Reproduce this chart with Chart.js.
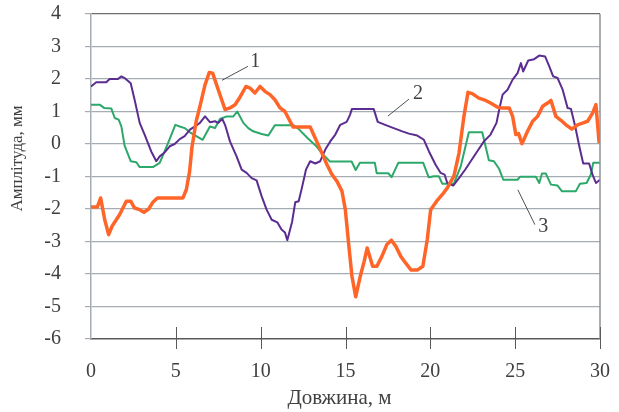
<!DOCTYPE html>
<html>
<head>
<meta charset="utf-8">
<script src="https://cdn.jsdelivr.net/npm/chart.js@4/dist/chart.umd.min.js"></script>
<style>
  html, body { margin: 0; padding: 0; background: #ffffff; }
  #wrap { width: 619px; height: 412px; }
</style>
</head>
<body>
<div id="wrap"><canvas id="chart" width="619" height="412"></canvas></div>
<script>
// Position along the track (m) and amplitude (mm) for each measured curve
const curve1 = [
  [0,-1.94],[0.37,-1.94],[0.57,-1.66],[0.81,-2.33],[1.04,-2.79],[1.24,-2.53],[1.49,-2.33],[1.69,-2.17],
  [2.08,-1.76],[2.34,-1.76],[2.57,-1.97],[2.87,-2.02],[3.12,-2.1],[3.4,-2.0],[3.65,-1.79],[3.91,-1.66],
  [5.42,-1.66],[5.62,-1.4],[5.81,-0.85],[5.95,-0.1],[6.2,0.7],[6.42,1.16],[6.72,1.82],[6.97,2.2],
  [7.17,2.18],[7.5,1.67],[7.9,1.06],[8.19,1.11],[8.49,1.21],[8.78,1.44],[9.13,1.77],[9.37,1.72],
  [9.66,1.57],[9.96,1.77],[10.25,1.62],[10.55,1.52],[10.84,1.36],[11.14,1.11],[11.43,1.0],[11.73,0.7],
  [11.92,0.52],[12.92,0.52],[13.22,0.18],[13.61,-0.28],[13.91,-0.64],[14.2,-0.94],[14.5,-1.15],[14.79,-1.45],
  [14.99,-2.02],[15.18,-3.04],[15.38,-4.07],[15.6,-4.7],[15.87,-4.07],[16.1,-3.61],[16.28,-3.2],[16.6,-3.76],
  [16.85,-3.76],[17.15,-3.45],[17.44,-3.09],[17.7,-2.96],[17.97,-3.15],[18.25,-3.45],[18.54,-3.66],[18.87,-3.88],
  [19.23,-3.88],[19.56,-3.76],[19.82,-2.94],[20.02,-2.02],[20.37,-1.76],[20.7,-1.56],[21.0,-1.35],[21.39,-0.99],
  [21.69,-0.28],[21.98,0.85],[22.22,1.59],[22.47,1.55],[22.86,1.41],[23.26,1.34],[23.55,1.26],[23.94,1.14],
  [24.16,1.11],[24.65,1.11],[24.85,0.85],[25.04,0.29],[25.2,0.32],[25.4,0.01],[25.73,0.39],[26.03,0.7],
  [26.32,0.85],[26.62,1.16],[26.91,1.26],[27.11,1.34],[27.4,0.85],[27.7,0.73],[27.99,0.59],[28.34,0.46],
  [28.68,0.59],[29.01,0.65],[29.27,0.7],[29.56,0.95],[29.76,1.21],[29.95,0.03]
];
const curve2 = [
  [0,1.77],[0.31,1.9],[0.9,1.9],[1.1,2.0],[1.59,2.0],[1.79,2.08],[1.98,2.03],[2.34,1.87],
  [2.57,1.36],[2.87,0.65],[3.16,0.29],[3.55,-0.23],[3.85,-0.53],[4.05,-0.38],[4.34,-0.26],[4.64,-0.07],
  [4.93,0.0],[5.23,0.15],[5.52,0.24],[5.83,0.44],[6.13,0.54],[6.42,0.65],[6.72,0.85],[7.01,0.67],
  [7.31,0.7],[7.5,0.65],[7.74,0.77],[7.9,0.59],[8.19,0.08],[8.58,-0.38],[8.88,-0.79],[9.17,-0.89],
  [9.47,-1.05],[9.76,-1.12],[10.06,-1.61],[10.35,-2.02],[10.65,-2.33],[10.98,-2.41],[11.23,-2.63],[11.43,-2.72],
  [11.57,-2.96],[11.85,-2.4],[12.04,-1.79],[12.24,-1.76],[12.43,-1.35],[12.67,-0.79],[12.92,-0.53],[13.22,-0.6],
  [13.51,-0.53],[13.81,-0.17],[14.1,0.08],[14.4,0.29],[14.69,0.59],[15.07,0.68],[15.26,0.89],[15.38,1.08],
  [16.66,1.08],[16.9,0.68],[17.34,0.59],[17.84,0.49],[18.35,0.39],[18.74,0.32],[19.23,0.26],[19.62,0.13],
  [19.92,-0.23],[20.31,-0.64],[20.61,-0.89],[20.84,-0.94],[21.0,-1.2],[21.35,-1.28],[21.69,-1.05],[22.08,-0.77],
  [22.38,-0.53],[22.76,-0.23],[23.16,0.08],[23.55,0.29],[23.9,0.65],[24.06,1.06],[24.26,1.52],[24.55,1.67],
  [24.85,1.98],[25.14,2.18],[25.34,2.49],[25.47,2.23],[25.77,2.57],[26.12,2.61],[26.42,2.72],[26.77,2.69],
  [27.01,2.39],[27.24,2.08],[27.5,2.03],[27.8,1.67],[28.09,1.11],[28.29,1.08],[28.54,0.54],[28.78,-0.07],
  [29.01,-0.6],[29.36,-0.6],[29.56,-0.94],[29.76,-1.2],[30,-1.1]
];
const curve3 = [
  [0,1.21],[0.51,1.21],[0.77,1.11],[1.2,1.09],[1.4,0.8],[1.63,0.75],[1.79,0.54],[1.98,-0.05],
  [2.34,-0.53],[2.67,-0.56],[2.87,-0.71],[3.65,-0.71],[4.05,-0.58],[4.54,0.03],[4.97,0.59],[5.23,0.54],
  [5.52,0.49],[5.83,0.36],[6.58,0.13],[7.01,0.54],[7.31,0.49],[7.6,0.77],[8.0,0.85],[8.39,0.85],
  [8.62,1.0],[8.98,0.65],[9.27,0.49],[9.56,0.39],[10.06,0.31],[10.45,0.26],[10.84,0.58],[11.92,0.58],
  [12.2,0.48],[12.79,0.17],[13.3,-0.08],[13.6,-0.28],[14.08,-0.54],[15.36,-0.54],[15.6,-0.8],[15.85,-0.58],
  [16.73,-0.58],[16.84,-0.9],[17.52,-0.9],[17.72,-1.02],[18.11,-0.58],[19.58,-0.58],[19.9,-1.02],[20.21,-0.99],
  [20.5,-0.99],[20.7,-1.22],[21.39,-1.22],[21.79,-0.69],[22.27,0.36],[23.06,0.36],[23.45,-0.5],[23.75,-0.53],
  [24.06,-0.77],[24.3,-1.1],[25.14,-1.1],[25.28,-1.01],[26.22,-1.01],[26.42,-1.2],[26.58,-0.91],[26.81,-0.91],
  [27.11,-1.25],[27.5,-1.28],[27.75,-1.45],[28.58,-1.45],[28.82,-1.22],[29.21,-1.2],[29.46,-0.94],[29.6,-0.58],
  [30,-0.58]
];
const curveNames = ['1', '2', '3'];
const xTicks = [0, 5, 10, 15, 20, 25, 30];
const yTicks = [-6, -5, -4, -3, -2, -1, 0, 1, 2, 3, 4];
const xTitle = 'Довжина, м';
const yTitle = 'Амплітуда, мм';

const toPoints = arr => arr.map(([x, y]) => ({ x, y }));

const serif = 'Liberation Serif';
const textColor = '#404040';
const gridColor = '#a5acb4';

// Numbered callouts beside the curves: text anchor and leader line (data units)
const callouts = [
  { text: '1', at: [9.68, 2.52], from: [7.72, 1.96], to: [9.25, 2.39] },
  { text: '2', at: [19.28, 1.56], from: [17.5, 0.86], to: [18.74, 1.38] },
  { text: '3', at: [26.66, -2.55], from: [25.16, -1.41], to: [26.16, -2.48] }
];

const frameAndNotes = {
  id: 'frameAndNotes',
  afterDraw(chart) {
    const { ctx, chartArea: a, scales: { x, y } } = chart;
    ctx.save();
    // right frame edge
    ctx.strokeStyle = '#8d9196';
    ctx.lineWidth = 1.5;
    ctx.beginPath();
    ctx.moveTo(a.right, a.top);
    ctx.lineTo(a.right, a.bottom);
    ctx.stroke();
    // tick marks crossing the horizontal axis
    ctx.strokeStyle = '#5a5a5a';
    ctx.lineWidth = 1;
    xTicks.forEach(v => {
      if (v === 0) return;
      const px = Math.round(x.getPixelForValue(v)) + 0.5;
      ctx.beginPath();
      ctx.moveTo(px, a.bottom - 12);
      ctx.lineTo(px, a.bottom + 10);
      ctx.stroke();
    });
    // callouts
    ctx.strokeStyle = '#505050';
    ctx.lineWidth = 1;
    ctx.fillStyle = textColor;
    ctx.font = '20px "' + serif + '"';
    ctx.textAlign = 'center';
    ctx.textBaseline = 'middle';
    callouts.forEach(c => {
      ctx.beginPath();
      ctx.moveTo(x.getPixelForValue(c.from[0]), y.getPixelForValue(c.from[1]));
      ctx.lineTo(x.getPixelForValue(c.to[0]), y.getPixelForValue(c.to[1]));
      ctx.stroke();
      ctx.fillText(c.text, x.getPixelForValue(c.at[0]), y.getPixelForValue(c.at[1]));
    });
    // axis titles
    ctx.font = '21px "' + serif + '"';
    ctx.fillText(xTitle, a.left + (a.right - a.left) / 2 - 6, 398);
    ctx.translate(18, a.top + (a.bottom - a.top) / 2 - 18);
    ctx.rotate(-Math.PI / 2);
    ctx.font = '17px "' + serif + '"';
    ctx.fillText(yTitle, 0, 0);
    ctx.restore();
  }
};

new Chart(document.getElementById('chart'), {
  type: 'line',
  data: {
    datasets: [
      { label: curveNames[0], data: toPoints(curve1), borderColor: '#ff6529', borderWidth: 3.5 },
      { label: curveNames[1], data: toPoints(curve2), borderColor: '#5b2d90', borderWidth: 2 },
      { label: curveNames[2], data: toPoints(curve3), borderColor: '#2ba86a', borderWidth: 2 }
    ].map(d => Object.assign(d, { pointRadius: 0, tension: 0, fill: false, borderJoinStyle: 'round' }))
  },
  options: {
    responsive: false,
    devicePixelRatio: 1,
    animation: false,
    layout: { padding: { top: 14, right: 19, left: 0, bottom: 0 } },
    plugins: { legend: { display: false }, tooltip: { enabled: false } },
    scales: {
      x: {
        type: 'linear',
        min: 0, max: 30,
        afterBuildTicks: s => { s.ticks = xTicks.map(v => ({ value: v })); },
        afterFit: s => { s.height = 73; s.paddingLeft = 0; s.paddingRight = 0; },
        grid: { display: false },
        border: { display: true, color: '#595959', width: 1.5 },
        ticks: { color: textColor, font: { family: serif, size: 20 }, padding: 13, maxRotation: 0 }
      },
      y: {
        type: 'linear',
        min: -6, max: 4,
        afterBuildTicks: s => { s.ticks = yTicks.map(v => ({ value: v })); },
        afterFit: s => { s.width = 91; s.paddingTop = 0; s.paddingBottom = 0; },
        grid: {
          color: c => c.tick && c.tick.value === 4 ? '#6e6e6e' : (c.tick && c.tick.value === -6 ? 'rgba(0,0,0,0)' : gridColor),
          lineWidth: 1.2,
          tickLength: 6,
          tickColor: gridColor
        },
        border: { display: true, color: gridColor, width: 1.5 },
        ticks: { color: textColor, font: { family: serif, size: 20 }, padding: 24 }
      }
    }
  },
  plugins: [frameAndNotes]
});
</script>
</body>
</html>
